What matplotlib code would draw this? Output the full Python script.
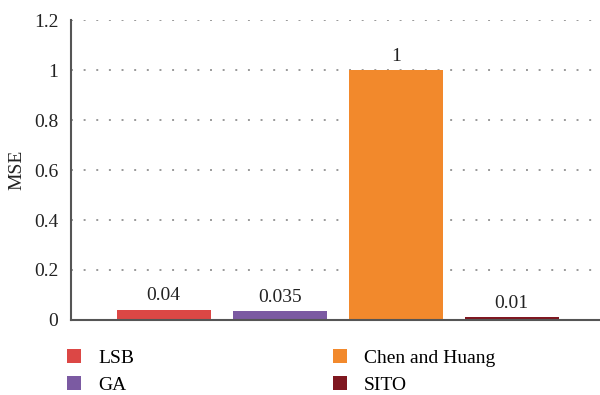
import numpy as np
import matplotlib.pyplot as plt
from matplotlib.patches import Patch

plt.rcParams['font.family'] = ['Liberation Serif', 'DejaVu Serif']

methods = ['LSB', 'GA', 'Chen and Huang', 'SITO']
mse = [0.04, 0.035, 1, 0.01]
labels = ['0.04', '0.035', '1', '0.01']
colors = ['#dc4745', '#7b5aa2', '#f2892c', '#7f1720']
yticks = [0, 0.2, 0.4, 0.6, 0.8, 1, 1.2]
ytick_labels = ['0', '0.2', '0.4', '0.6', '0.8', '1', '1.2']

fs = 14

fig = plt.figure(figsize=(6, 3.95), dpi=100)
ax = fig.add_axes([0.118, 0.19, 0.882, 0.759])

x = np.arange(len(methods))
bars = ax.bar(x, mse, width=0.81, color=colors, zorder=3)
for b, lab in zip(bars, labels):
    ax.text(b.get_x() + b.get_width() / 2, b.get_height() + 0.022, lab,
            ha='center', va='bottom', fontsize=fs, color='#222222')

ax.set_xlim(-0.8, 3.76)
ax.set_ylim(0, 1.2)
ax.set_yticks(yticks)
ax.set_yticklabels(ytick_labels)
ax.set_xticks([])
ax.tick_params(axis='y', length=0, pad=9, labelsize=fs, labelcolor='#222222')

for yv in yticks[1:]:
    ax.axhline(yv, color='#999999', linestyle=(0, (1, 5.5)), linewidth=1.4, zorder=1)

for s in ['top', 'right']:
    ax.spines[s].set_visible(False)
for s in ['left', 'bottom']:
    ax.spines[s].set_color('#555555')
    ax.spines[s].set_linewidth(1.5)
    ax.spines[s].set_zorder(4)

ax.set_ylabel('MSE', fontsize=fs, color='#222222', labelpad=6)

# two legend columns placed separately
handles = [Patch(facecolor=c, edgecolor='none') for c in colors]
for i, x0 in enumerate([0.105, 0.548]):
    fig.legend(handles[2 * i:2 * i + 2], methods[2 * i:2 * i + 2],
               loc='upper left', bbox_to_anchor=(x0, 0.126),
               frameon=False, fontsize=fs, handlelength=0.75,
               handleheight=0.75, handletextpad=0.85,
               labelspacing=0.45, borderaxespad=0, borderpad=0.2)

fig.savefig('out.png', dpi=100)
